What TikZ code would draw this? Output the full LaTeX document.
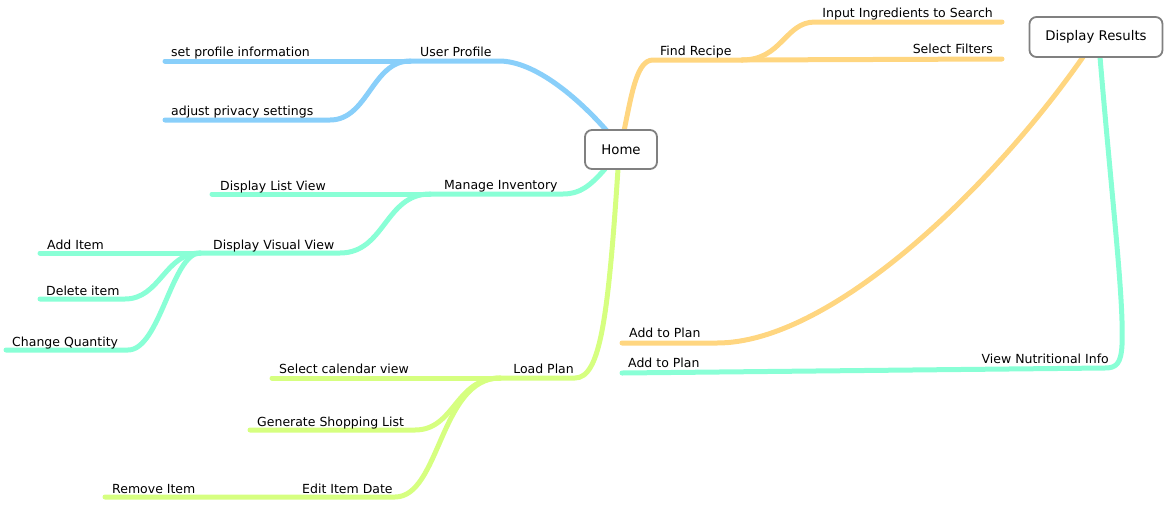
\documentclass[tikz,border=0pt]{standalone}
\usepackage{fontspec}
\setmainfont{DejaVu Sans}
\definecolor{cblue}{RGB}{137,207,250}
\definecolor{corange}{RGB}{255,214,128}
\definecolor{cmint}{RGB}{137,255,214}
\definecolor{clime}{RGB}{214,255,128}
\definecolor{cframe}{RGB}{128,128,128}
\begin{document}
\begin{tikzpicture}[x=1pt,y=-1pt,
  branch/.style={line width=5pt,line cap=round,line join=round},
  topic/.style={draw=cframe,line width=1.8pt,fill=white,rounded corners=7pt,
    inner sep=0pt,font=\fontsize{13.3}{16}\selectfont},
  lbl/.style={inner sep=0pt,anchor=base west,font=\fontsize{12.5}{15}\selectfont},
  lblr/.style={lbl,anchor=base east}]
\useasboundingbox (0,0) rectangle (1164,504);

% --- branch points and attachment coordinates
\coordinate (hUp)  at (607,131);
\coordinate (hFr)  at (624,131);
\coordinate (hMi)  at (605,169);
\coordinate (hLp)  at (618,169);
\coordinate (drO)  at (1083,57);
\coordinate (drM)  at (1100,57);

\coordinate (bUp)  at (410,61);
\coordinate (eSet) at (165,61);
\coordinate (ePriv) at (165,120);

\coordinate (bFr)  at (742,60);
\coordinate (eIng) at (1002,22);
\coordinate (eFil) at (1002,59);

\coordinate (eAdd1) at (622,343);
\coordinate (eAdd2) at (622,373);

\coordinate (bMi)  at (430,194);
\coordinate (eList) at (212,194);
\coordinate (bVis) at (200,253);
\coordinate (eAdd) at (40,253);
\coordinate (eDel) at (40,299);
\coordinate (eChg) at (6,350);

\coordinate (bLp)  at (500,378);
\coordinate (eCal) at (272,378);
\coordinate (eShop) at (250,430);
\coordinate (eRem) at (105,497);

% --- User Profile branch
\draw[branch,cblue] (hUp) .. controls (578,98) and (535,61) .. (499,61) -- (bUp);
\draw[branch,cblue] (bUp) -- (eSet);
\draw[branch,cblue] (bUp) .. controls (372,61) and (368,120) .. (330,120) -- (ePriv);

% --- Find Recipe branch
\draw[branch,corange] (hFr) .. controls (632,92) and (637,60) .. (653,60) -- (bFr);
\draw[branch,corange] (bFr) -- (eFil);
\draw[branch,corange] (bFr) .. controls (782,60) and (785,22) .. (815,22) -- (eIng);

% --- Display Results branches
\draw[branch,corange] (drO) .. controls (990,190) and (830,343) .. (717,343) -- (eAdd1);
\draw[branch,cmint] (drM) .. controls (1112,200) and (1124,300) .. (1122,345)
  .. controls (1121,364) and (1116,368) .. (1105,368) -- (eAdd2);

% --- Manage Inventory branch
\draw[branch,cmint] (hMi) .. controls (590,186) and (580,194) .. (563,194) -- (bMi);
\draw[branch,cmint] (bMi) -- (eList);
\draw[branch,cmint] (bMi) .. controls (385,194) and (385,253) .. (340,253) -- (bVis);
\draw[branch,cmint] (bVis) -- (eAdd);
\draw[branch,cmint] (bVis) .. controls (165,253) and (160,299) .. (125,299) -- (eDel);
\draw[branch,cmint] (bVis) .. controls (172,253) and (160,350) .. (128,350) -- (eChg);

% --- Load Plan branch
\draw[branch,clime] (hLp) .. controls (608,320) and (600,378) .. (575,378) -- (bLp);
\draw[branch,clime] (bLp) -- (eCal);
\draw[branch,clime] (bLp) .. controls (455,378) and (455,430) .. (415,430) -- (eShop);
\draw[branch,clime] (bLp) .. controls (440,378) and (440,497) .. (395,497) -- (eRem);

% --- central topics
\node[topic,minimum width=72pt,minimum height=39pt] (home) at (621,149.5) {Home};
\node[topic,minimum width=133pt,minimum height=40pt] (results) at (1096,37) {Display Results};

% --- labels
\node[lbl]  (lUp)   at (420,56)  {User Profile};
\node[lbl]  (lSet)  at (171,56)  {set profile information};
\node[lbl]  (lPriv) at (171,115) {adjust privacy settings};
\node[lbl]  (lFr)   at (660,55)  {Find Recipe};
\node[lblr] (lIng)  at (993,17)  {Input Ingredients to Search};
\node[lblr] (lFil)  at (993,53)  {Select Filters};
\node[lbl]  (lAp1)  at (629,337) {Add to Plan};
\node[lbl]  (lAp2)  at (628,367) {Add to Plan};
\node[lblr] (lNut)  at (1109,363) {View Nutritional Info};
\node[lbl]  (lMi)   at (444,189) {Manage Inventory};
\node[lbl]  (lList) at (220,190) {Display List View};
\node[lbl]  (lVis)  at (213,249) {Display Visual View};
\node[lbl]  (lAdd)  at (47,249)  {Add Item};
\node[lbl]  (lDel)  at (46,295)  {Delete item};
\node[lbl]  (lChg)  at (12,346)  {Change Quantity};
\node[lblr] (lLp)   at (574,373) {Load Plan};
\node[lbl]  (lCal)  at (279,373) {Select calendar view};
\node[lbl]  (lShop) at (257,426) {Generate Shopping List};
\node[lbl]  (lEdit) at (302,493) {Edit Item Date};
\node[lbl]  (lRem)  at (112,493) {Remove Item};
\end{tikzpicture}
\end{document}
